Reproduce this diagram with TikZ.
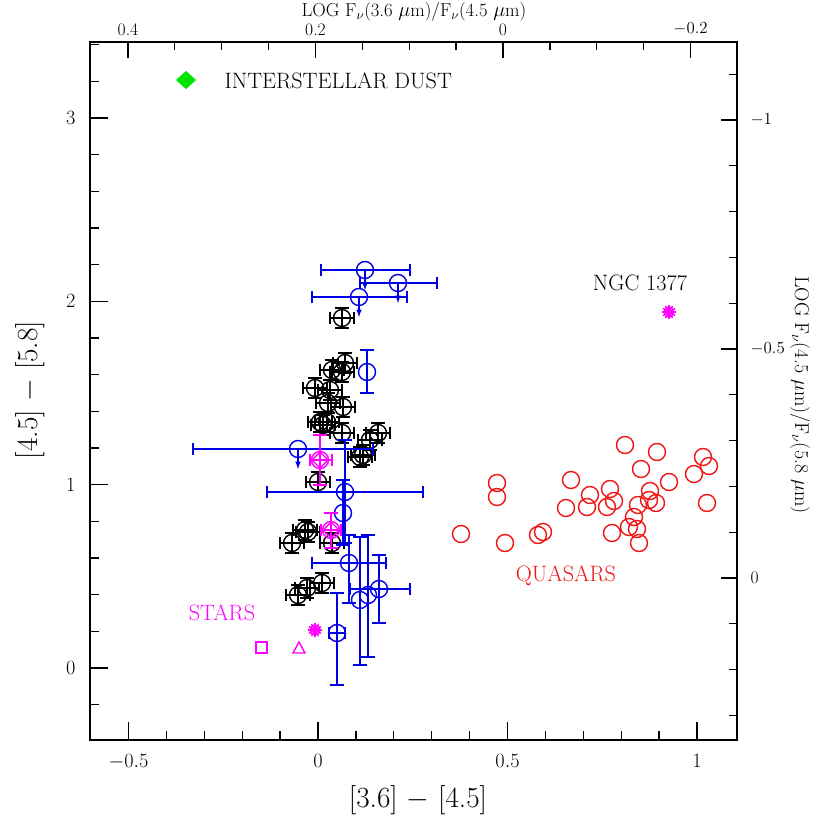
\documentclass[tikz,border=0pt]{standalone}
\begin{document}
\begin{tikzpicture}[x=0.03cm,y=-0.03cm,line width=1.2pt]
\useasboundingbox (0,0) rectangle (830,830);
\definecolor{qred}{RGB}{240,20,20}
\definecolor{mag}{RGB}{255,0,255}
\definecolor{bl}{RGB}{0,0,230}
\tikzset{ax/.style={line width=1.1pt,black},
 tl/.style={font=\fontsize{18}{18}\selectfont},
 tt/.style={font=\fontsize{15}{15}\selectfont},
 lab/.style={font=\fontsize{19}{19}\selectfont}}
\draw[ax] (90,42) rectangle (737,740);
\foreach \v in {-0.6,-0.5,...,1.1}{\pgfmathsetmacro\xx{318+379*\v}
  \draw[ax] (\xx,740)--(\xx,731);}
\foreach \v/\l in {-0.5/$-0.5$,0/$0$,0.5/$0.5$,1/$1$}{\pgfmathsetmacro\xx{318+379*\v}
  \draw[ax] (\xx,740)--(\xx,722); \node[tl,anchor=north] at (\xx,750) {\l};}
\foreach \v in {-0.2,0,...,3.4}{\pgfmathsetmacro\yy{668-183.3*\v}
  \draw[ax] (90,\yy)--(99,\yy);}
\foreach \v in {0,1,2,3}{\pgfmathsetmacro\yy{668-183.3*\v}
  \draw[ax] (90,\yy)--(108,\yy); \node[tl,anchor=east] at (80,\yy) {$\v$};}
\foreach \v in {-0.2,-0.15,...,0.42}{\pgfmathsetmacro\xx{503-937.5*\v}
  \draw[ax] (\xx,42)--(\xx,50);}
\foreach \v/\l in {0.4/0.4,0.2/0.2,0/0,-0.2/$-0.2$}{\pgfmathsetmacro\xx{503-937.5*\v}
  \draw[ax] (\xx,42)--(\xx,58); \node[tt,anchor=south] at (\xx,40) {\l};}
\foreach \v in {-1.2,-1.1,...,0.3}{\pgfmathsetmacro\yy{578+458*\v}
  \ifdim\yy pt>44pt \ifdim\yy pt<738pt \draw[ax] (737,\yy)--(729,\yy);\fi\fi}
\foreach \v/\l in {-1/$-1$,-0.5/$-0.5$,0/0}{\pgfmathsetmacro\yy{578+458*\v}
  \draw[ax] (737,\yy)--(721,\yy); \node[tt,anchor=west] at (746,\yy) {\l};}
\node[font=\fontsize{25}{25}\selectfont] at (418,800) {[3.6] $-$ [4.5]};
\node[font=\fontsize{25}{25}\selectfont,rotate=90] at (30,390) {[4.5] $-$ [5.8]};
\node[font=\fontsize{16}{16}\selectfont] at (414,12) {LOG F$_\nu$(3.6 $\mu$m)/F$_\nu$(4.5 $\mu$m)};
\node[font=\fontsize{17}{17}\selectfont,rotate=-90] at (800,395) {LOG F$_\nu$(4.5 $\mu$m)/F$_\nu$(5.8 $\mu$m)};
\newcommand\ep[7]{%
 \draw[#1] (#4,#3)--(#5,#3) (#4,#3-6)--(#4,#3+6) (#5,#3-6)--(#5,#3+6)
   (#2,#6)--(#2,#7) (#2-7,#6)--(#2+7,#6) (#2-7,#7)--(#2+7,#7);
 \draw[#1] (#2,#3) circle[radius=8.5];}
\newcommand\bp[2]{\ep{black}{#1}{#2}{#1-12}{#1+12}{#2-10}{#2+10}}
\foreach \a/\b in {342/318,345/363,332/370,342/372,315/388,330/390,328/403,343/407,
 320/422,327/422,323/425,342/433,378/433,370/440,360/457,363/455,318/482,
 305/530,308/532,292/543,332/543,322/583,307/588,298/595}{\bp{\a}{\b}}
\ep{bl}{365}{270}{321}{410}{270}{270}\draw[bl,-latex] (365,270)--(365,290);
\ep{bl}{398}{283}{360}{437}{283}{283}\draw[bl,-latex] (398,283)--(398,303);
\ep{bl}{359}{297}{312}{407}{297}{297}\draw[bl,-latex] (359,297)--(359,317);
\ep{bl}{367}{372}{367}{367}{350}{393}
\ep{bl}{298}{449}{193}{373}{449}{449}\draw[bl,-latex] (298,449)--(298,469);
\ep{bl}{345}{492}{267}{423}{440}{543}
\ep{bl}{343}{513}{343}{343}{480}{545}
\ep{bl}{349}{563}{312}{386}{535}{603}
\ep{bl}{379}{589}{350}{410}{555}{623}
\ep{bl}{368}{595}{368}{368}{535}{657}
\ep{bl}{360}{600}{360}{360}{537}{665}
\ep{bl}{337}{633}{329}{345}{593}{685}
\ep{mag}{320}{460}{310}{332}{435}{485}\draw[mag] (320,452)--(328,460)--(320,468)--(312,460)--cycle;
\ep{mag}{331}{530}{321}{341}{513}{548}\draw[mag] (331,522)--(339,530)--(331,538)--(323,530)--cycle;
\newcommand\starmark[2]{\foreach \ang in {0,30,...,150}{\draw[mag] (#1,#2)+(\ang:7)--+(\ang+180:7);}\draw[mag](#1,#2) circle[radius=5];}
\starmark{315}{630}\starmark{669}{312}
\draw[mag] (256,642) rectangle (267,653);
\draw[mag] (299,642)--(305,653)--(293,653)--cycle;
\foreach \a/\b in {461/534,497/483,497/497,505/543,538/535,543/532,566/508,571/480,
 590/495,587/507,607/507,610/489,614/501,625/445,634/517,629/527,637/529,641/469,
 649/500,639/543,657/452,650/491,638/505,656/503,669/482,694/474,703/457,707/503,709/466,612/533}
 {\draw[qred] (\a,\b) circle[radius=8.5];}
\fill[green!90!black] (186,71)--(196,80)--(186,89)--(176,80)--cycle;
\node[lab,anchor=west] at (220,81) {INTERSTELLAR DUST};
\node[lab] at (640,283) {NGC 1377};
\node[lab,qred] at (566,576) {QUASARS};
\node[lab,mag] at (222,613) {STARS};
\end{tikzpicture}
\end{document}
